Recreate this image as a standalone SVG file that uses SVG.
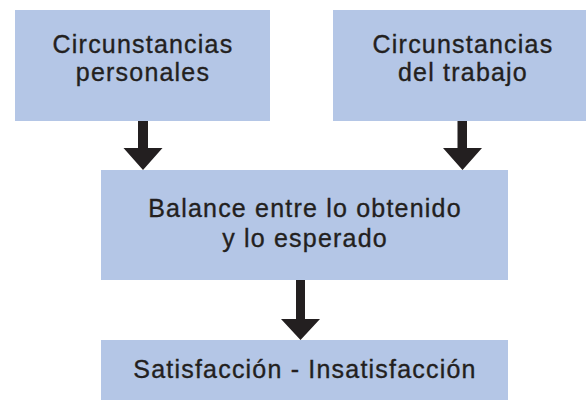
<svg xmlns="http://www.w3.org/2000/svg" width="586" height="401" viewBox="0 0 586 401">
<style>
.box{fill:#b4c6e6}
.t{font-family:"Liberation Sans",Arial,sans-serif;font-size:25px;fill:#231f20;stroke:#231f20;stroke-width:0.35px;text-anchor:middle;letter-spacing:1.2px}
.arr{fill:#231f20}
</style>
<rect width="586" height="401" fill="#ffffff"/>
<g id="node-personales">
<rect class="box" x="15" y="10" width="255" height="111"/>
<text class="t" x="143" y="53">Circunstancias</text>
<text class="t" x="143" y="81">personales</text>
</g>
<g id="node-trabajo">
<rect class="box" x="333" y="10" width="253" height="111"/>
<text class="t" x="463" y="53">Circunstancias</text>
<text class="t" x="463" y="81">del trabajo</text>
</g>
<g id="node-balance">
<rect class="box" x="101" y="170" width="407" height="110"/>
<text class="t" x="305" y="217">Balance entre lo obtenido</text>
<text class="t" x="305" y="247">y lo esperado</text>
</g>
<g id="node-satisfaccion">
<rect class="box" x="101" y="340" width="407" height="60"/>
<text class="t" x="305" y="378">Satisfacción - Insatisfacción</text>
</g>
<g id="connectors">
<path class="arr" d="M138 121H148V148H162.5L143 170L123.5 148H138Z"/>
<path class="arr" d="M457.5 121H467V148H482L462.5 170L443 148H457.5Z"/>
<path class="arr" d="M296 280H305V319H320L300.5 340L281 319H296Z"/>
</g>
</svg>
